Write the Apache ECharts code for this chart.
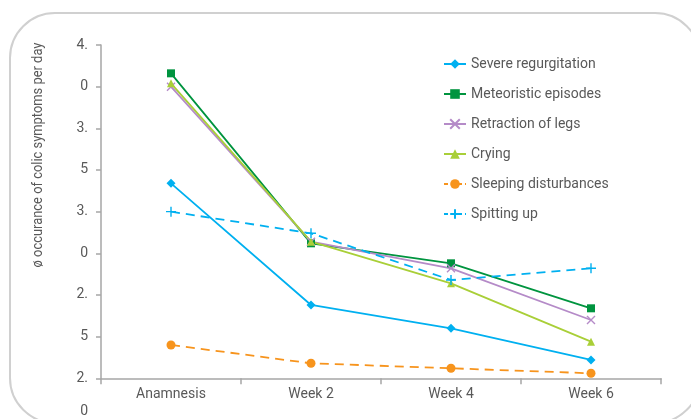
<!DOCTYPE html>
<html>
<head>
<meta charset="utf-8">
<script src="https://cdn.jsdelivr.net/npm/echarts@6/dist/echarts.min.js"></script>
<style>html,body{margin:0;padding:0;background:#fff}#c{width:691px;height:419px}</style>
</head>
<body>
<div id="c"></div>
<script>
var categories = ['Anamnesis', 'Week 2', 'Week 4', 'Week 6'];
var yTickLabels = ['2.', '5', '2.', '0', '3.', '5', '3.', '0', '4.'];
var extraBottomLabel = '0';
var yAxisTitle = 'ø occurance of colic symptoms per day';
var seriesNames = ['Severe regurgitation', 'Meteoristic episodes', 'Retraction of legs', 'Crying', 'Sleeping disturbances', 'Spitting up'];
var severeRegurgitation = [3.17, 2.44, 2.30, 2.11];
var meteoristicEpisodes = [3.83, 2.81, 2.69, 2.42];
var retractionOfLegs = [3.75, 2.82, 2.66, 2.35];
var crying = [3.77, 2.82, 2.57, 2.22];
var sleepingDisturbances = [2.20, 2.09, 2.06, 2.03];
var spittingUp = [3.00, 2.87, 2.59, 2.66];

var font = 'Roboto';
var textGray = '#595959';
var axisGray = '#A6A6A6';
var crossPath = 'path://M0,0L10,10M10,0L0,10';
var plusPath = 'path://M5,0L5,10M0,5L10,5';

function mk(name, data, color, symbol, size, dashed, strokeSymbol) {
  return {
    name: name, type: 'line', data: data,
    symbol: symbol, symbolSize: size,
    lineStyle: {color: color, width: 1.8, type: dashed ? [9, 6] : 'solid'},
    itemStyle: strokeSymbol ? {color: color, borderColor: color, borderWidth: 1.4} : {color: color},
    emphasis: {disabled: true},
    animation: false
  };
}

var legendData = seriesNames.map(function (n) {
  var dashed = (n === 'Sleeping disturbances' || n === 'Spitting up');
  return dashed ? {name: n, lineStyle: {type: [4, 3]}} : {name: n};
});

var chart = echarts.init(document.getElementById('c'), null, {renderer: 'canvas'});
chart.setOption({
  backgroundColor: '#fff',
  animation: false,
  grid: {left: 101, right: 30, top: 45, bottom: 40.7, containLabel: false},
  legend: {
    orient: 'vertical', left: 438, top: 52,
    itemWidth: 22, itemHeight: 12, itemGap: 16,
    textStyle: {fontFamily: font, fontSize: 14, color: textGray},
    data: legendData
  },
  xAxis: {
    type: 'category', data: categories, boundaryGap: true,
    axisLine: {lineStyle: {color: axisGray, width: 1.5}},
    axisTick: {show: true, length: 6, lineStyle: {color: axisGray, width: 1.5}},
    axisLabel: {fontFamily: font, fontSize: 14, color: textGray, margin: 9}
  },
  yAxis: {
    type: 'value', min: 2, max: 4, interval: 0.25,
    splitLine: {show: false},
    axisLine: {show: true, lineStyle: {color: axisGray, width: 1.5}},
    axisTick: {show: true, length: 5, lineStyle: {color: axisGray, width: 1.5}},
    axisLabel: {
      fontFamily: font, fontSize: 14, color: textGray, margin: 13,
      formatter: function (v) { var i = Math.round((v - 2) / 0.25); return yTickLabels[i]; }
    }
  },
  graphic: [
    {type: 'rect', z: -1, shape: {x: 10, y: 13, width: 690, height: 410, r: 45},
     style: {fill: 'none', stroke: '#D0D0D0', lineWidth: 2}},
    {type: 'text', x: 38, y: 155, rotation: Math.PI / 2, scaleX: 0.86, scaleY: 1,
     style: {text: yAxisTitle, fontFamily: font, fontSize: 15, fill: textGray, align: 'center', verticalAlign: 'middle'}},
    {type: 'text', x: 88, y: 411,
     style: {text: extraBottomLabel, fontFamily: font, fontSize: 14, fill: textGray, align: 'right', verticalAlign: 'middle'}}
  ],
  series: [
    mk(seriesNames[0], severeRegurgitation, '#00B0F0', 'diamond', 9, false, false),
    mk(seriesNames[1], meteoristicEpisodes, '#00943F', 'rect', 8, false, false),
    mk(seriesNames[2], retractionOfLegs, '#B58BC8', crossPath, 8, false, true),
    mk(seriesNames[3], crying, '#A9CF38', 'triangle', 8, false, false),
    mk(seriesNames[4], sleepingDisturbances, '#F7941D', 'circle', 9, true, false),
    mk(seriesNames[5], spittingUp, '#00B0F0', plusPath, 10, true, true)
  ]
});
</script>
</body>
</html>
